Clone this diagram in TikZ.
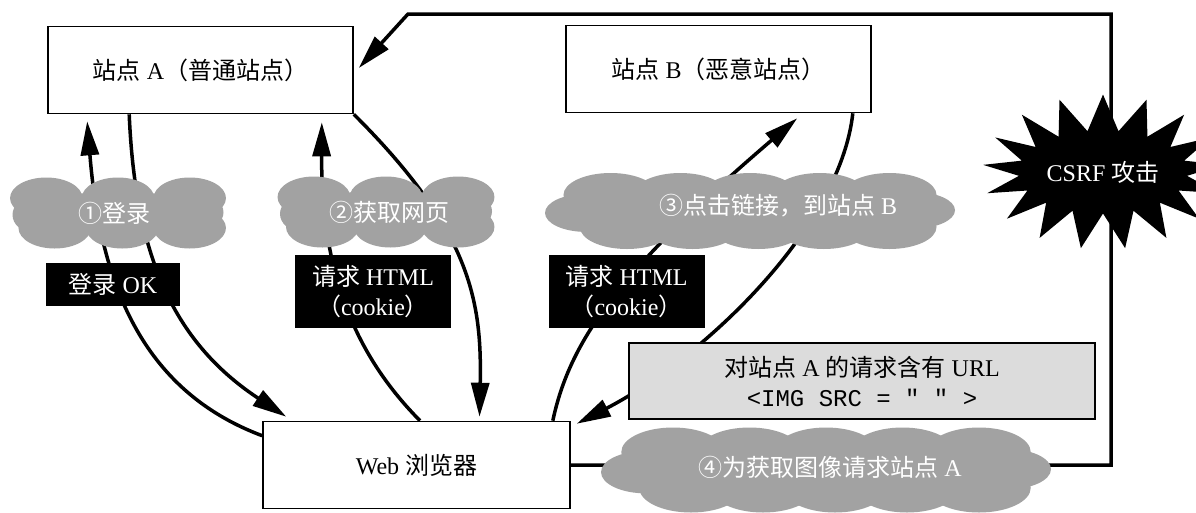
\documentclass[tikz,border=0pt]{standalone}
\usepackage{fontspec}
\setmainfont{Liberation Serif}
\setmonofont{Liberation Mono}
\newfontfamily\cjk{Noto Sans CJK SC}
\usetikzlibrary{shapes.symbols, arrows.meta, positioning, calc}
\definecolor{cloudgray}{HTML}{A2A2A2}
\definecolor{notegray}{HTML}{DCDCDC}

\tikzset{
  pics/blob/.style n args={3}{code={
    \begin{scope}[xscale=#1/2, yscale=#2/2, fill=cloudgray]
      \fill (0,0) ellipse [x radius=0.85, y radius=0.6];
      \fill (-0.8,0.05) ellipse [x radius=0.2, y radius=0.5];
      \fill (0.8,-0.02) ellipse [x radius=0.2, y radius=0.48];
      \foreach \i in {1,...,#3} {
        \fill ({-0.68+1.36*(\i-1)/(#3-1)},-0.42) ellipse [x radius={0.85/#3+0.06}, y radius=0.58];
        \fill ({-0.6+1.28*(\i-1)/(#3-1)},0.42) ellipse [x radius={0.85/#3+0.06}, y radius=0.58];
      }
    \end{scope}
  }}
}

\begin{document}
\begin{tikzpicture}[
  x=1pt, y=-1pt,
  font=\fontsize{24}{30}\selectfont,
  site/.style={rectangle, draw, line width=1.6pt, fill=white, minimum width=305pt, minimum height=87pt, align=center},
  tag/.style={rectangle, fill=black, text=white, inner sep=2pt, minimum width=156pt, minimum height=73pt, align=center},
  puff/.style={text=white, inner sep=0pt},
  note/.style={rectangle, draw, line width=1.6pt, fill=notegray, minimum width=466pt, minimum height=76pt, align=center},
  burst/.style={starburst, starburst points=17, starburst point height=36pt, random starburst=0, fill=black, text=white},
  arrow/.style={-{Triangle[length=34pt, width=18pt]}, line width=3.5pt},
]
\useasboundingbox (0,0) rectangle (1196,512);

% Sites and browser
\node[site] (siteA) at (200.5,70) {{\cjk 站点} A{\cjk （普通站点）}};
\node[site] (siteB) at (718.5,69) {{\cjk 站点} B{\cjk （恶意站点）}};
\node[site, minimum width=307pt] (browser) at (416.5,465) {Web {\cjk 浏览器}};

% Arrows
\draw[arrow] ($(browser.north west)+(0,15)$) .. controls (140,390) and (100,280) .. ($(siteA.south west)+(40,7)$);
\draw[arrow] ($(siteA.south west)+(82,0)$) .. controls (135,250) and (170,340) .. ($(browser.north west)+(24,-4)$);
\draw[arrow] ($(browser.north)+(3.5,0)$) .. controls (360,360) and (321,280) .. ($(siteA.south east)+(-32,8)$);
\draw[arrow] (siteA.south east) .. controls (470,230) and (482,300) .. ($(browser.north)+(63,-4)$);
\draw[arrow] ($(browser.north east)+(-18,0)$) .. controls (570,340) and (620,270) .. ($(siteB.south west)+(232,5)$);
\draw[arrow] ($(siteB.south east)+(-19,0)$) .. controls (840,230) and (700,360) .. ($(browser.north east)+(6,3)$);
\coordinate (corner) at (1111,14);
\coordinate (bend) at (408,14);
\draw[arrow] (browser.east) -| (corner) -- (bend) -- ($(siteA.east)+(5,-2)$);

% Clouds
\pic at (118,213) {blob={211}{71}{3}};
\pic at (386,212) {blob={212}{71}{3}};
\pic at (750,211) {blob={410}{76}{5}};
\pic at (826,470) {blob={450}{85}{5}};
\node[puff] (login) at (114,213) {\cjk ①登录};
\node[puff] (fetch) at (389,212) {\cjk ②获取网页};
\node[puff] (click) at (778,206) {{\cjk ③点击链接，到站点} B};
\node[puff] (image) at (830,467) {{\cjk ④为获取图像请求站点} A};

% Labels
\node[tag, minimum width=134pt, minimum height=43pt] (ok) at (113,284.5) {{\cjk 登录} OK};
\node[tag] (reqA) at (373,291.5) {{\cjk 请求} HTML\\{\cjk （}cookie{\cjk ）}};
\node[tag] (reqB) at (626.5,291.5) {{\cjk 请求} HTML\\{\cjk （}cookie{\cjk ）}};
\node[note] (url) at (862,381) {{\cjk 对站点} A {\cjk 的请求含有} URL\\\texttt{<IMG SRC = " " >}};

% Attack
\node[burst, minimum width=195pt, minimum height=155pt] (csrf) at (1103,172) {CSRF {\cjk 攻击}};

\end{tikzpicture}
\end{document}
